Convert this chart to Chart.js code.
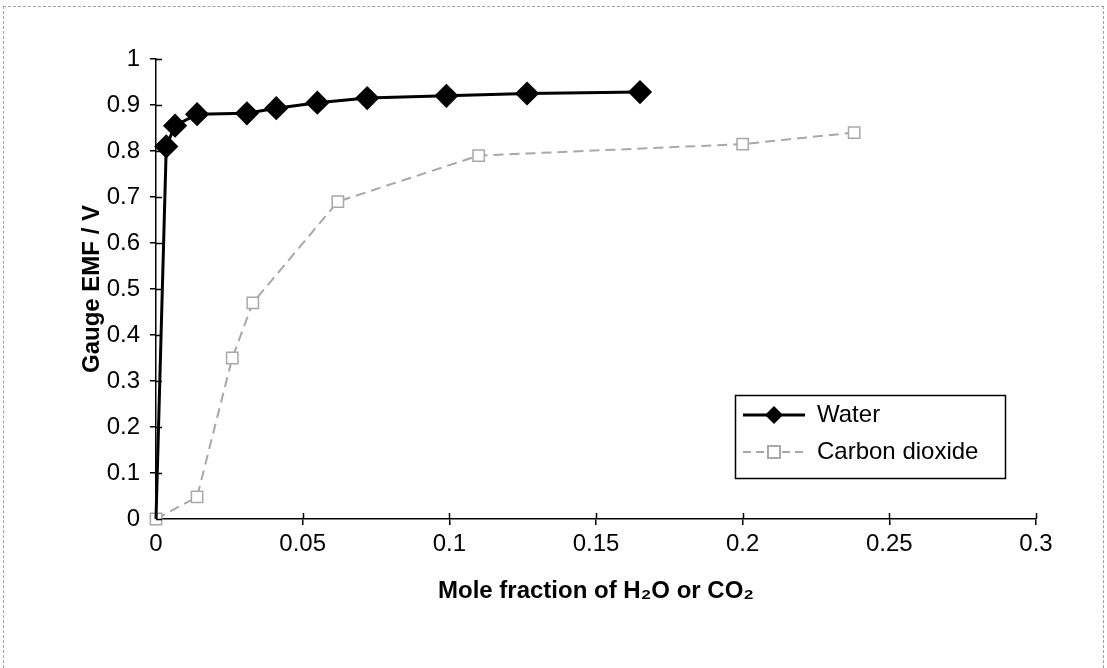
<!DOCTYPE html>
<html>
<head>
<meta charset="utf-8">
<script src="https://cdn.jsdelivr.net/npm/chart.js@4.4.0/dist/chart.umd.min.js"></script>
<style>
  body { margin: 0; background: #fff; }
  #wrap { position: relative; width: 1107px; height: 668px; overflow: hidden; }
  #frame { position: absolute; left: 3px; top: 6px; width: 1099px; height: 720px; border: 1px dashed #a0a0a0; }
  canvas { position: absolute; left: 0; top: 0; }
</style>
</head>
<body>
<div id="wrap">
  <div id="frame"></div>
  <canvas id="myChart" width="1107" height="668"></canvas>
</div>
<script>
// values
const seriesNames = ["Water", "Carbon dioxide"];
const waterX = [0, 0.0035, 0.0065, 0.014, 0.031, 0.041, 0.055, 0.072, 0.099, 0.1265, 0.165];
const waterY = [0, 0.81, 0.855, 0.88, 0.882, 0.893, 0.905, 0.915, 0.92, 0.925, 0.928];
const co2X = [0, 0.014, 0.026, 0.033, 0.062, 0.11, 0.2, 0.238];
const co2Y = [0, 0.048, 0.35, 0.47, 0.69, 0.79, 0.815, 0.84];
const xTickLabels = ["0", "0.05", "0.1", "0.15", "0.2", "0.25", "0.3"];
const yTickLabels = ["0", "0.1", "0.2", "0.3", "0.4", "0.5", "0.6", "0.7", "0.8", "0.9", "1"];

const FONT = '"Liberation Sans", Arial, sans-serif';
Chart.defaults.font.family = FONT;
Chart.defaults.font.size = 24;
Chart.defaults.color = "#000";

const CO2_GREY = "#a8a8a8";

function toPoints(xs, ys) {
  return xs.map((x, i) => ({ x: x, y: ys[i] }));
}

// little line + marker pictures for the legend, like Excel does it
function legendIcon(kind) {
  const c = document.createElement("canvas");
  c.width = 62; c.height = 24;
  const g = c.getContext("2d");
  g.lineWidth = kind === "water" ? 3 : 2;
  g.strokeStyle = kind === "water" ? "#000" : CO2_GREY;
  if (kind !== "water") g.setLineDash([8, 5]);
  g.beginPath(); g.moveTo(0, 12); g.lineTo(62, 12); g.stroke();
  g.setLineDash([]);
  if (kind === "water") {
    g.fillStyle = "#000";
    g.beginPath(); g.moveTo(31, 3); g.lineTo(40, 12); g.lineTo(31, 21); g.lineTo(22, 12); g.closePath(); g.fill();
  } else {
    g.fillStyle = "#fff";
    g.fillRect(25, 6, 12, 12);
    g.strokeRect(25, 6, 12, 12);
  }
  return c;
}
const legendIcons = [legendIcon("water"), legendIcon("co2")];

const excelBits = {
  id: "excelBits",
  afterUpdate(chart) {
    // park the legend in the lower right of the plot
    const lg = chart.legend;
    lg.left = 730; lg.top = 390;
    lg.width = 275; lg.height = 90;
    lg.right = lg.left + lg.width; lg.bottom = lg.top + lg.height;
    lg.adjustHitBoxes();
  },
  afterDraw(chart) {
    const ctx = chart.ctx;
    const xs = chart.scales.x, ys = chart.scales.y;
    ctx.save();
    ctx.strokeStyle = "#000";
    ctx.lineWidth = 1.5;
    ctx.beginPath();
    // inner half of the crossing tick marks
    xs.ticks.forEach(t => {
      const px = Math.round(xs.getPixelForValue(t.value)) + 0.5;
      ctx.moveTo(px, ys.bottom); ctx.lineTo(px, ys.bottom - 6);
    });
    ys.ticks.forEach(t => {
      const py = Math.round(ys.getPixelForValue(t.value)) + 0.5;
      ctx.moveTo(xs.left, py); ctx.lineTo(xs.left + 6, py);
    });
    ctx.stroke();
    // legend frame
    const lg = chart.legend;
    ctx.strokeRect(lg.left + 5.5, lg.top + 5.5, 270, 83);
    ctx.restore();
  }
};

new Chart(document.getElementById("myChart"), {
  type: "scatter",
  data: {
    datasets: [
      {
        label: seriesNames[0],
        data: toPoints(waterX, waterY),
        showLine: true,
        borderColor: "#000",
        backgroundColor: "#000",
        borderWidth: 3,
        pointStyle: "rectRot",
        pointRadius: ctx => (ctx.dataIndex === 0 ? 0 : 10),
        pointHoverRadius: 10,
        clip: false
      },
      {
        label: seriesNames[1],
        data: toPoints(co2X, co2Y),
        showLine: true,
        borderColor: CO2_GREY,
        backgroundColor: "#fff",
        borderWidth: 2,
        borderDash: [10, 6],
        pointStyle: "rect",
        pointRadius: 8,
        pointBorderWidth: 1.5,
        pointHoverRadius: 8,
        clip: false
      }
    ]
  },
  options: {
    responsive: false,
    animation: false,
    layout: { padding: { top: 59, right: 71, left: 0, bottom: 0 } },
    plugins: {
      tooltip: { enabled: false },
      legend: {
        position: "chartArea",
        align: "start",
        labels: {
          usePointStyle: true,
          pointStyleWidth: 62,
          padding: 13,
          color: "#000",
          font: { size: 24 },
          generateLabels(chart) {
            const items = Chart.defaults.plugins.legend.labels.generateLabels(chart);
            items.forEach((it, i) => { it.pointStyle = legendIcons[i]; });
            return items;
          }
        }
      }
    },
    scales: {
      x: {
        type: "linear",
        min: 0,
        max: 0.3,
        afterFit(scale) { scale.height = 149; },
        ticks: {
          stepSize: 0.05,
          autoSkip: false,
          maxRotation: 0,
          padding: 5,
          color: "#000",
          callback: (v, i) => xTickLabels[i]
        },
        grid: { drawOnChartArea: false, tickLength: 6, color: "#000", lineWidth: 1.5 },
        border: { color: "#000", width: 1.5 },
        title: {
          display: true,
          text: "Mole fraction of H\u2082O or CO\u2082",
          font: { size: 24, weight: "bold" },
          color: "#000",
          padding: { top: 0, bottom: 62 }
        }
      },
      y: {
        min: 0,
        max: 1,
        afterFit(scale) { scale.width = 156; },
        ticks: {
          stepSize: 0.1,
          autoSkip: false,
          padding: 10,
          color: "#000",
          callback: (v, i) => yTickLabels[i]
        },
        grid: { drawOnChartArea: false, tickLength: 6, color: "#000", lineWidth: 1.5 },
        border: { color: "#000", width: 1.5 },
        title: {
          display: true,
          text: "Gauge EMF / V",
          font: { size: 24, weight: "bold" },
          color: "#000",
          padding: { top: 78, bottom: 0 }
        }
      }
    }
  },
  plugins: [excelBits]
});
</script>
</body>
</html>
